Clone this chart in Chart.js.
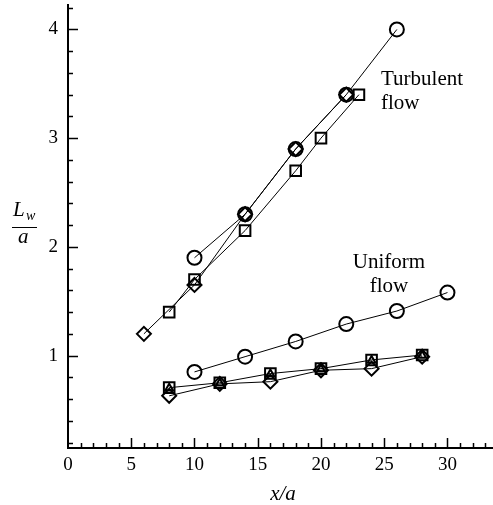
<!DOCTYPE html>
<html>
  <head>
    <title>Wake length</title>
    <script src="https://cdn.jsdelivr.net/npm/chart.js"></script>
    <style>
      body {
        margin: 0;
        background: #fff;
      }
    </style>
  </head>
  <body>
    <canvas id="wakeChart" width="493" height="505"></canvas>

    <script>
      // turbulent flow
      let turbCircX = [10, 14, 18, 22, 26];
      let turbCircY = [1.9, 2.3, 2.9, 3.4, 4.0];
      let turbSqX = [8, 10, 14, 18, 20, 23];
      let turbSqY = [1.4, 1.7, 2.15, 2.7, 3.0, 3.4];
      let turbDiaX = [6, 10, 14, 18, 22];
      let turbDiaY = [1.2, 1.65, 2.3, 2.9, 3.4];

      // uniform flow
      let unifCircX = [10, 14, 18, 22, 26, 30];
      let unifCircY = [0.85, 0.99, 1.13, 1.29, 1.41, 1.58];
      let unifX = [8, 12, 16, 20, 24, 28];
      let unifSqY = [0.705, 0.75, 0.835, 0.88, 0.96, 1.005];
      let unifTriY = [0.7, 0.745, 0.83, 0.875, 0.955, 1.0];
      let unifDiaY = [0.63, 0.74, 0.76, 0.865, 0.88, 0.99];

      let xTicks = [0, 5, 10, 15, 20, 25, 30];
      let yTicks = [1, 2, 3, 4];

      let pts = (xs, ys) => xs.map((x, i) => ({ x: x, y: ys[i] }));

      function series(xs, ys, style, r, line) {
        return {
          data: pts(xs, ys),
          showLine: line,
          borderColor: "#000",
          borderWidth: 1,
          pointStyle: style,
          pointRadius: r,
          pointBorderColor: "#000",
          pointBackgroundColor: "rgba(0,0,0,0)",
          pointBorderWidth: 2,
        };
      }

      let serif = "'Liberation Serif', 'Times New Roman', serif";

      // inward ticks + labels
      let decor = {
        id: "decor",
        afterDraw(chart) {
          let c = chart.ctx;
          let xs = chart.scales.x;
          let ys = chart.scales.y;
          let a = chart.chartArea;
          c.save();
          c.strokeStyle = "#000";
          c.lineWidth = 1.5;
          c.beginPath();
          for (let v = 1; v <= 33; v++) {
            let px = Math.round(xs.getPixelForValue(v)) + 0.5;
            let len = v % 5 === 0 ? 10 : 5;
            c.moveTo(px, a.bottom);
            c.lineTo(px, a.bottom - len);
          }
          for (let i = 1; i <= 21; i++) {
            let v = i * 0.2;
            let py = Math.round(ys.getPixelForValue(v)) + 0.5;
            let len = i % 5 === 0 ? 10 : 5;
            c.moveTo(a.left, py);
            c.lineTo(a.left + len, py);
          }
          c.stroke();

          c.fillStyle = "#000";
          c.textBaseline = "alphabetic";
          c.font = "21px " + serif;
          c.textAlign = "left";
          c.fillText("Turbulent", 381, 85);
          c.fillText("flow", 381, 109);
          c.textAlign = "center";
          c.fillText("Uniform", 389, 268);
          c.fillText("flow", 389, 292);

          c.font = "italic 21px " + serif;
          c.fillText("x/a", 283, 500);

          c.textAlign = "left";
          c.fillText("L", 13, 216);
          c.font = "italic 14px " + serif;
          c.fillText("w", 26, 220);
          c.font = "italic 21px " + serif;
          c.fillText("a", 18, 243);
          c.lineWidth = 1;
          c.beginPath();
          c.moveTo(12, 227.5);
          c.lineTo(37, 227.5);
          c.stroke();
          c.restore();
        },
      };

      new Chart(document.getElementById("wakeChart"), {
        type: "scatter",
        data: {
          datasets: [
            series(turbCircX, turbCircY, "circle", 7, true),
            series(turbSqX, turbSqY, "rect", 7.5, true),
            series(turbDiaX, turbDiaY, "rectRot", 7, true),
            series(unifCircX, unifCircY, "circle", 7, true),
            series(unifX, unifSqY, "rect", 7.5, true),
            series(unifX, unifTriY, "triangle", 4.5, false),
            series(unifX, unifDiaY, "rectRot", 7, true),
          ],
        },
        options: {
          responsive: false,
          animation: false,
          layout: {
            autoPadding: false,
            padding: { top: 5, right: 0, left: 0, bottom: 0 },
          },
          plugins: {
            legend: { display: false },
            tooltip: { enabled: false },
          },
          scales: {
            x: {
              type: "linear",
              min: 0,
              max: 33.6,
              afterFit: (s) => {
                s.height = 57;
                s.paddingLeft = 0;
                s.paddingRight = 0;
              },
              afterBuildTicks: (s) => {
                s.ticks = xTicks.map((v) => ({ value: v }));
              },
              grid: { display: false, drawTicks: false },
              border: { display: true, color: "#000", width: 2 },
              ticks: {
                color: "#000",
                padding: 6,
                maxRotation: 0,
                font: { family: serif, size: 19 },
              },
            },
            y: {
              min: 0.15,
              max: 4.225,
              afterFit: (s) => {
                s.width = 68;
                s.paddingTop = 0;
                s.paddingBottom = 0;
              },
              afterBuildTicks: (s) => {
                s.ticks = yTicks.map((v) => ({ value: v }));
              },
              grid: { display: false, drawTicks: false },
              border: { display: true, color: "#000", width: 2 },
              ticks: {
                color: "#000",
                padding: 10,
                font: { family: serif, size: 19 },
              },
            },
          },
        },
        plugins: [decor],
      });
    </script>
  </body>
</html>
